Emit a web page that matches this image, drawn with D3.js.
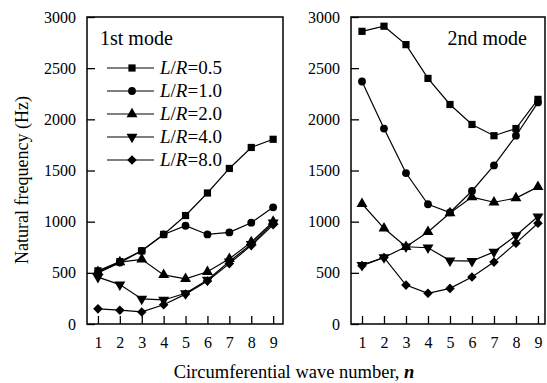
<!DOCTYPE html>
<meta charset="utf-8">
<style type="text/css">
body { margin: 0; background: #fff; }
text { font-family: "Liberation Serif", "DejaVu Serif", serif; fill: #000; }
.frame { fill: none; stroke: #000; stroke-width: 1.5; }
.line { fill: none; stroke: #000; stroke-width: 1.2; }
.mark { fill: #000; stroke: none; }
</style>
<body>
</body>
<script src="https://d3js.org/d3.v7.min.js"></script>
<script>

var nValues = [1, 2, 3, 4, 5, 6, 7, 8, 9];
var ratios = ["0.5", "1.0", "2.0", "4.0", "8.0"];
var yTicks = [0, 500, 1000, 1500, 2000, 2500, 3000];

// 1st mode
var mode1_05 = [520, 610, 715, 875, 1060, 1280, 1520, 1725, 1805];
var mode1_10 = [500, 600, 715, 875, 960, 875, 895, 990, 1140];
var mode1_20 = [510, 605, 632, 480, 442, 510, 637, 800, 1000];
var mode1_40 = [458, 385, 245, 235, 300, 430, 610, 780, 990];
var mode1_80 = [148, 135, 118, 188, 292, 420, 590, 768, 970];

// 2nd mode
var mode2_05 = [2860, 2910, 2730, 2400, 2145, 1950, 1840, 1910, 2195];
var mode2_10 = [2370, 1910, 1475, 1170, 1090, 1300, 1550, 1840, 2165];
var mode2_20 = [1175, 935, 755, 900, 1085, 1240, 1190, 1230, 1340];
var mode2_40 = [575, 650, 755, 745, 620, 615, 705, 865, 1050];
var mode2_80 = [570, 650, 380, 300, 348, 460, 605, 790, 985];

var width = 547, height = 383;

var svg = d3.select("body").append("svg")
    .attr("width", width)
    .attr("height", height);

var yScale = d3.scaleLinear().domain([0, 3000]).range([324, 17]);

var symbols = [
  { type: d3.symbolSquare, size: 52, rot: 0 },
  { type: d3.symbolCircle, size: 48, rot: 0 },
  { type: d3.symbolTriangle, size: 52, rot: 0 },
  { type: d3.symbolTriangle, size: 52, rot: 180 },
  { type: d3.symbolSquare, size: 46, rot: 45 }
];

function drawPanel(x0, x1, domainMax, series, label, labelX, anchor) {
  var xScale = d3.scaleLinear().domain([0.5, domainMax]).range([x0, x1]);
  var g = svg.append("g");

  var line = d3.line()
      .x(function(d, i) { return xScale(nValues[i]); })
      .y(function(d) { return yScale(d); });

  series.forEach(function(s, k) {
    g.append("path").datum(s).attr("class", "line").attr("d", line);
    g.selectAll(".m" + k)
        .data(s)
      .enter().append("path")
        .attr("class", "mark")
        .attr("d", d3.symbol().type(symbols[k].type).size(symbols[k].size))
        .attr("transform", function(d, i) {
          return "translate(" + xScale(nValues[i]) + "," + yScale(d) + ") rotate(" + symbols[k].rot + ")";
        });
  });

  // axes, ticks pointing inward
  var yAxis = g.append("g")
      .attr("transform", "translate(" + x0 + ",0)")
      .call(d3.axisLeft(yScale).tickValues(yTicks).tickSize(-8).tickPadding(11).tickFormat(d3.format("d")));
  var xAxis = g.append("g")
      .attr("transform", "translate(0," + yScale(0) + ")")
      .call(d3.axisBottom(xScale).tickValues(nValues).tickSize(-8).tickPadding(13));
  [yAxis, xAxis].forEach(function(a) {
    a.select(".domain").remove();
    a.selectAll("line").attr("stroke", "#000").attr("stroke-width", 1.3);
    a.selectAll("text").attr("font-size", 16).attr("font-family", "Liberation Serif");
  });

  g.append("rect")
      .attr("class", "frame")
      .attr("x", x0).attr("y", yScale(3000))
      .attr("width", x1 - x0).attr("height", yScale(0) - yScale(3000));

  g.append("text")
      .attr("x", labelX).attr("y", 45)
      .attr("text-anchor", anchor)
      .attr("font-size", 20)
      .text(label);
  return xScale;
}

drawPanel(87, 283, 9.45, [mode1_05, mode1_10, mode1_20, mode1_40, mode1_80], "1st mode", 100, "start");
drawPanel(351, 545, 9.32, [mode2_05, mode2_10, mode2_20, mode2_40, mode2_80], "2nd mode", 527, "end");

// legend
var legend = svg.append("g");
ratios.forEach(function(r, k) {
  var y = 68 + k * 23;
  legend.append("line")
      .attr("x1", 107).attr("x2", 154).attr("y1", y).attr("y2", y)
      .attr("stroke", "#000").attr("stroke-width", 1.2);
  legend.append("path")
      .attr("class", "mark")
      .attr("d", d3.symbol().type(symbols[k].type).size(symbols[k].size))
      .attr("transform", "translate(132," + y + ") rotate(" + symbols[k].rot + ")");
  var t = legend.append("text")
      .attr("x", 160).attr("y", y + 6)
      .attr("font-size", 19);
  t.append("tspan").attr("font-style", "italic").text("L");
  t.append("tspan").text("/");
  t.append("tspan").attr("font-style", "italic").text("R");
  t.append("tspan").text("=" + r);
});

// axis titles
svg.append("text")
    .attr("transform", "translate(28,180) rotate(-90)")
    .attr("text-anchor", "middle")
    .attr("font-size", 18)
    .text("Natural frequency (Hz)");

var xt = svg.append("text")
    .attr("x", 294).attr("y", 378)
    .attr("text-anchor", "middle")
    .attr("font-size", 18.5);
xt.append("tspan").text("Circumferential wave number, ");
xt.append("tspan").attr("font-style", "italic").attr("font-weight", "bold").text("n");

</script>
